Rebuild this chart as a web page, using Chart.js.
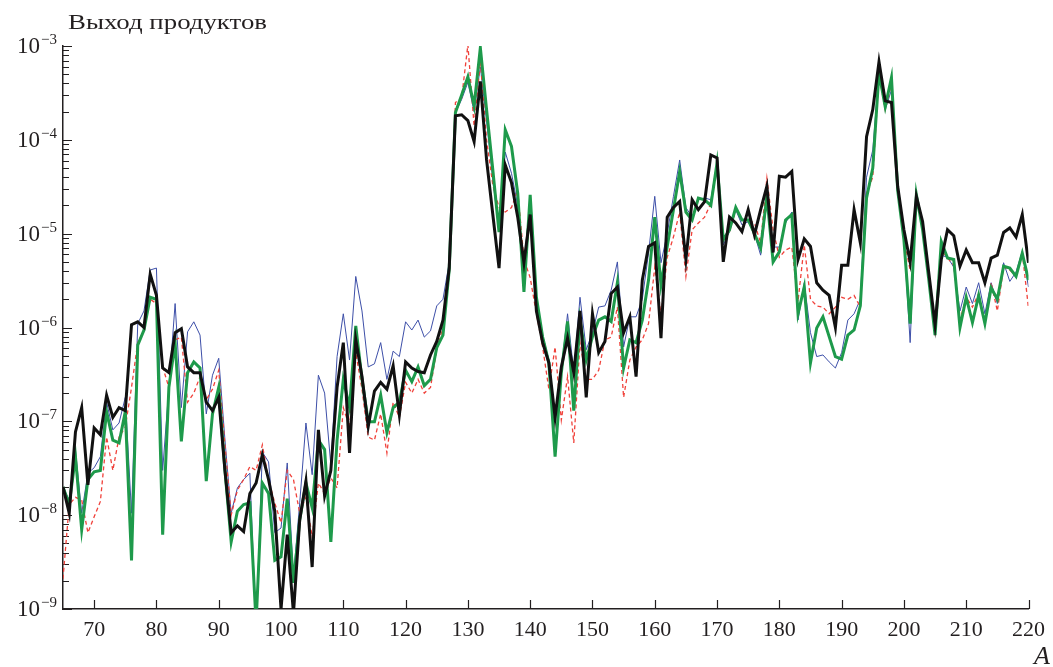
<!DOCTYPE html>
<html>
<head>
<meta charset="utf-8">
<title>Выход продуктов</title>
<script src="https://cdn.jsdelivr.net/npm/chart.js@4.4.0/dist/chart.umd.min.js"></script>
<style>
  html, body { margin: 0; padding: 0; background: #fff; }
  #wrap { position: relative; width: 1053px; height: 667px; overflow: hidden; }
  #yieldChart { position: absolute; left: 0; top: 0; }
  .txt { position: absolute; font-family: "Liberation Serif", "Times New Roman", serif; color: #231f20; white-space: nowrap; }
  #yTitle { left: 68px; top: 11px; font-size: 22px; line-height: 22px; transform: scaleX(1.22); transform-origin: left top; }
  #xTitle { left: 1034px; top: 643px; font-size: 26px; line-height: 26px; font-style: italic; }
  .y-tick { right: 996px; font-size: 23px; line-height: 23px; text-align: right; }
  .y-tick sup { font-size: 15px; line-height: 0; vertical-align: baseline; position: relative; top: -9px; margin-left: 1px; }
</style>
</head>
<body>
<div id="wrap">
  <canvas id="yieldChart" width="1053" height="667"></canvas>
  <div class="txt" id="yTitle">Выход продуктов</div>
  <div class="txt" id="xTitle">A</div>
</div>
<script>
// mass numbers A on the x axis
const massNumbers = [
  65, 66, 67, 68, 69, 70, 71, 72, 73, 74, 75, 76, 77, 78, 79, 80, 81, 82, 83, 84,
  85, 86, 87, 88, 89, 90, 91, 92, 93, 94, 95, 96, 97, 98, 99, 100, 101, 102, 103, 104,
  105, 106, 107, 108, 109, 110, 111, 112, 113, 114, 115, 116, 117, 118, 119, 120, 121, 122, 123, 124,
  125, 126, 127, 128, 129, 130, 131, 132, 133, 134, 135, 136, 137, 138, 139, 140, 141, 142, 143, 144,
  145, 146, 147, 148, 149, 150, 151, 152, 153, 154, 155, 156, 157, 158, 159, 160, 161, 162, 163, 164,
  165, 166, 167, 168, 169, 170, 171, 172, 173, 174, 175, 176, 177, 178, 179, 180, 181, 182, 183, 184,
  185, 186, 187, 188, 189, 190, 191, 192, 193, 194, 195, 196, 197, 198, 199, 200, 201, 202, 203, 204,
  205, 206, 207, 208, 209, 210, 211, 212, 213, 214, 215, 216, 217, 218, 219, 220
];

// thick black curve
const blackYield = [
  2.0e-8, 1.05e-8, 7.7e-8, 1.4e-7, 2.1e-8, 8.5e-8, 7.2e-8, 1.9e-7, 1.1e-7, 1.4e-7,
  1.3e-7, 1.07e-6, 1.15e-6, 1.0e-6, 3.7e-6, 2.2e-6, 3.7e-7, 3.3e-7, 8.8e-7, 9.7e-7,
  3.8e-7, 3.3e-7, 3.3e-7, 1.6e-7, 1.3e-7, 1.8e-7, 3.0e-8, 6.5e-9, 7.7e-9, 6.7e-9,
  1.7e-8, 2.2e-8, 4.4e-8, 2.4e-8, 1.1e-8, 1.0e-9, 6.2e-9, 9e-10, 8.9e-9, 2.3e-8,
  2.8e-9, 8.1e-8, 1.6e-8, 3.0e-8, 2.3e-7, 6.9e-7, 4.6e-8, 7.4e-7, 3.0e-7, 8.8e-8,
  2.1e-7, 2.6e-7, 2.2e-7, 3.9e-7, 1.17e-7, 4.3e-7, 3.7e-7, 3.4e-7, 3.3e-7, 5.1e-7,
  7.1e-7, 1.2e-6, 4.3e-6, 1.8e-4, 1.85e-4, 1.6e-4, 9.6e-5, 4.2e-4, 6.1e-5, 1.6e-5,
  4.3e-6, 5.4e-5, 3.5e-5, 1.5e-5, 4.9e-6, 1.6e-5, 1.5e-6, 6.9e-7, 4.2e-7, 1.1e-7,
  3.8e-7, 7.7e-7, 3.3e-7, 1.5e-6, 1.8e-7, 1.4e-6, 5.4e-7, 7.1e-7, 2.3e-6, 2.7e-6,
  8.8e-7, 1.3e-6, 3.0e-7, 3.2e-6, 7.3e-6, 8.0e-6, 7.7e-7, 1.5e-5, 1.9e-5, 2.2e-5,
  5.3e-6, 2.3e-5, 1.8e-5, 2.2e-5, 6.9e-5, 6.4e-5, 5.0e-6, 1.5e-5, 1.3e-5, 1.05e-5,
  1.8e-5, 9.7e-6, 1.8e-5, 3.2e-5, 6.3e-6, 4.1e-5, 4.0e-5, 4.6e-5, 5.3e-6, 8.8e-6,
  7.3e-6, 3.0e-6, 2.5e-6, 2.2e-6, 1.0e-6, 4.6e-6, 4.6e-6, 1.8e-5, 8.0e-6, 1.08e-4,
  2.1e-4, 6.8e-4, 2.6e-4, 2.5e-4, 3.2e-5, 1.1e-5, 5.0e-6, 2.5e-5, 1.35e-5, 3.8e-6,
  1.07e-6, 5.3e-6, 1.1e-5, 9.5e-6, 4.5e-6, 6.7e-6, 4.9e-6, 4.9e-6, 3.0e-6, 5.5e-6,
  5.9e-6, 1.03e-5, 1.15e-5, 9.2e-6, 1.6e-5, 4.9e-6
];

// thick green curve
const greenYield = [
  2.0e-8, 1.3e-8, 4.2e-8, 7.0e-9, 2.4e-8, 2.9e-8, 3.0e-8, 1.27e-7, 6.3e-8, 5.9e-8,
  1.27e-7, 3.3e-9, 6.5e-7, 9.4e-7, 2.1e-6, 2.0e-6, 6.2e-9, 2.3e-7, 6.9e-7, 6.1e-8,
  3.3e-7, 4.3e-7, 3.7e-7, 2.3e-8, 1.2e-7, 2.3e-7, 3.0e-8, 5.2e-9, 1.1e-8, 1.3e-8,
  1.35e-8, 7e-10, 2.2e-8, 1.7e-8, 3.3e-9, 3.6e-9, 1.5e-8, 1.9e-9, 8.9e-9, 2.2e-8,
  1.2e-8, 6.3e-8, 5.0e-8, 5.2e-9, 6.3e-8, 2.8e-7, 1.4e-7, 1.04e-6, 2.8e-7, 9.9e-8,
  9.9e-8, 1.9e-7, 7.6e-8, 1.4e-7, 1.6e-7, 3.5e-7, 2.65e-7, 3.8e-7, 2.4e-7, 2.8e-7,
  6.1e-7, 8.3e-7, 4.1e-6, 1.95e-4, 3.0e-4, 4.7e-4, 2.3e-4, 9.6e-4, 2.1e-4, 4.8e-5,
  1.04e-5, 1.28e-4, 8.5e-5, 2.7e-5, 2.4e-6, 2.6e-5, 2.1e-6, 7.9e-7, 4.2e-7, 4.2e-8,
  3.3e-7, 1.16e-6, 1.3e-7, 1.2e-6, 4.5e-7, 8.0e-7, 1.2e-6, 1.3e-6, 1.16e-6, 3.0e-6,
  3.7e-7, 7.4e-7, 6.9e-7, 1.2e-6, 3.2e-6, 1.5e-5, 2.85e-6, 7.3e-6, 1.8e-5, 4.6e-5,
  1.7e-5, 1.4e-5, 2.4e-5, 2.3e-5, 2.0e-5, 5.7e-5, 8.6e-6, 1.1e-5, 1.9e-5, 1.4e-5,
  1.4e-5, 1.0e-5, 7.0e-6, 2.5e-5, 5.0e-6, 6.4e-6, 1.4e-5, 1.6e-5, 1.4e-6, 2.7e-6,
  4.2e-7, 9.9e-7, 1.3e-6, 8.0e-7, 4.9e-7, 4.6e-7, 8.3e-7, 9.4e-7, 1.7e-6, 2.4e-5,
  5.0e-5, 5.2e-4, 2.25e-4, 4.6e-4, 2.9e-5, 8.6e-6, 1.1e-6, 2.6e-5, 1.1e-5, 3.2e-6,
  8.3e-7, 8.2e-6, 5.5e-6, 5.3e-6, 1.0e-6, 2.1e-6, 1.13e-6, 2.2e-6, 1.1e-6, 2.65e-6,
  2.0e-6, 4.5e-6, 4.3e-6, 3.5e-6, 6.2e-6, 3.2e-6
];

// thin blue curve
const blueYield = [
  2.0e-8, 1.45e-8, 5.0e-8, 1.05e-8, 2.8e-8, 3.2e-8, 4.2e-8, 1.6e-7, 8.1e-8, 9.6e-8,
  1.8e-7, 1.05e-8, 1.1e-6, 1.5e-6, 4.1e-6, 4.3e-6, 3.0e-8, 2.3e-7, 1.8e-6, 1.4e-7,
  9.0e-7, 1.15e-6, 8.3e-7, 1.2e-7, 3.1e-7, 4.7e-7, 6.3e-8, 1.05e-8, 1.95e-8, 2.4e-8,
  2.8e-8, 6e-10, 4.7e-8, 3.7e-8, 6.5e-9, 7.3e-9, 3.6e-8, 2.2e-9, 1.35e-8, 9.6e-8,
  2.7e-8, 3.1e-7, 2.0e-7, 3.4e-8, 4.9e-7, 1.4e-6, 4.5e-7, 3.5e-6, 1.5e-6, 3.8e-7,
  4.1e-7, 6.9e-7, 2.8e-7, 5.6e-7, 4.9e-7, 1.15e-6, 9.4e-7, 1.2e-6, 7.9e-7, 9.2e-7,
  1.7e-6, 2.0e-6, 4.9e-6, 1.95e-4, 2.7e-4, 4.1e-4, 2.0e-4, 6.0e-4, 1.6e-4, 3.7e-5,
  1.1e-5, 7.4e-5, 4.4e-5, 2.0e-5, 4.9e-6, 2.1e-5, 2.0e-6, 8.3e-7, 4.5e-7, 9.8e-8,
  3.5e-7, 1.4e-6, 3.3e-7, 2.1e-6, 5.8e-7, 8.8e-7, 1.65e-6, 1.7e-6, 2.5e-6, 5.0e-6,
  6.2e-7, 1.3e-6, 1.3e-6, 2.0e-6, 6.2e-6, 2.5e-5, 4.9e-6, 1.0e-5, 2.5e-5, 6.1e-5,
  1.9e-5, 1.5e-5, 2.3e-5, 2.4e-5, 2.3e-5, 5.7e-5, 7.6e-6, 1.05e-5, 1.8e-5, 1.24e-5,
  1.34e-5, 1.0e-5, 5.9e-6, 2.3e-5, 7.2e-6, 7.2e-6, 1.3e-5, 1.7e-5, 1.2e-6, 3.0e-6,
  8.8e-7, 4.9e-7, 5.1e-7, 4.3e-7, 3.7e-7, 5.4e-7, 1.2e-6, 1.4e-6, 2.0e-6, 4.0e-5,
  7.8e-5, 5.3e-4, 2.1e-4, 3.4e-4, 2.9e-5, 8.6e-6, 6.9e-7, 2.5e-5, 1.1e-5, 3.2e-6,
  8.8e-7, 5.9e-6, 5.6e-6, 4.4e-6, 1.5e-6, 2.7e-6, 1.8e-6, 3.0e-6, 1.4e-6, 3.0e-6,
  1.8e-6, 4.9e-6, 3.1e-6, 3.9e-6, 6.5e-6, 2.7e-6
];

// thin red dashed curve
const redYield = [
  2.1e-9, 1.3e-8, 1.55e-8, 1.45e-8, 6.5e-9, 9.6e-9, 1.4e-8, 6.8e-8, 3.0e-8, 6.8e-8,
  8.7e-8, 2.3e-7, 6.9e-7, 9.4e-7, 2.0e-6, 1.8e-6, 3.8e-7, 2.3e-7, 7.4e-7, 7.9e-7,
  1.6e-7, 2.0e-7, 3.0e-7, 1.7e-7, 2.2e-7, 3.5e-7, 5.6e-8, 1.0e-8, 1.85e-8, 2.4e-8,
  3.3e-8, 3.0e-8, 5.6e-8, 2.4e-8, 1.35e-8, 8.3e-9, 3.0e-8, 2.4e-8, 1.05e-8, 1.55e-8,
  5.9e-9, 2.2e-8, 1.7e-8, 2.5e-8, 1.95e-8, 1.4e-7, 8.7e-8, 5.4e-7, 2.2e-7, 6.8e-8,
  6.3e-8, 1.2e-7, 4.6e-8, 1.6e-7, 1.1e-7, 2.6e-7, 2.0e-7, 2.8e-7, 2.0e-7, 2.3e-7,
  5.8e-7, 1.0e-6, 3.6e-6, 2.5e-4, 2.8e-4, 1.03e-3, 1.4e-4, 6.8e-4, 1.0e-4, 3.3e-5,
  1.9e-5, 1.7e-5, 1.9e-5, 2.9e-5, 5.3e-6, 3.4e-6, 1.4e-6, 6.2e-7, 2.2e-7, 6.2e-7,
  1.03e-7, 3.0e-7, 5.9e-8, 6.9e-7, 2.8e-7, 2.8e-7, 3.5e-7, 7.4e-7, 7.9e-7, 1.65e-6,
  1.8e-7, 4.5e-7, 6.2e-7, 7.4e-7, 1.1e-6, 4.4e-6, 1.4e-6, 5.6e-6, 9.2e-6, 1.7e-5,
  3.5e-6, 1.1e-5, 1.3e-5, 1.5e-5, 2.1e-5, 5.7e-5, 8.6e-6, 1.05e-5, 1.8e-5, 1.4e-5,
  1.4e-5, 1.3e-5, 8.0e-6, 3.9e-5, 1.1e-5, 5.6e-6, 6.7e-6, 7.2e-6, 1.9e-6, 7.6e-6,
  2.0e-6, 1.7e-6, 1.65e-6, 1.4e-6, 1.65e-6, 2.1e-6, 2.0e-6, 2.2e-6, 1.65e-6, 2.7e-5,
  4.0e-5, 4.9e-4, 2.1e-4, 3.9e-4, 2.9e-5, 8.6e-6, 4.1e-6, 2.5e-5, 1.1e-5, 3.2e-6,
  8.3e-7, 6.7e-6, 5.5e-6, 4.6e-6, 1.2e-6, 2.1e-6, 1.65e-6, 2.3e-6, 1.1e-6, 3.0e-6,
  1.5e-6, 4.4e-6, 4.1e-6, 3.5e-6, 6.3e-6, 1.6e-6
];

// axis ticks
const xTickValues = [70, 80, 90, 100, 110, 120, 130, 140, 150, 160, 170, 180, 190, 200, 210, 220];
const yTickValues = [1e-9, 1e-8, 1e-7, 1e-6, 1e-5, 1e-4, 1e-3];
const yTickExponents = ['−9', '−8', '−7', '−6', '−5', '−4', '−3'];

const axisColor = '#231f20';
const serif = '"Liberation Serif", "Times New Roman", serif';

function toPoints(values) {
    return values.map((v, i) => ({ x: massNumbers[i], y: v }));
}

// tick marks pointing into the plot, with log minor ticks on y
const inwardTicks = {
    id: 'inwardTicks',
    beforeDatasetsDraw(chart) {
        const { ctx, chartArea, scales } = chart;
        const x = scales.x, y = scales.y;
        ctx.save();
        ctx.strokeStyle = axisColor;
        ctx.lineWidth = 1.2;
        ctx.beginPath();
        xTickValues.forEach(v => {
            const px = Math.round(x.getPixelForValue(v)) + 0.5;
            ctx.moveTo(px, chartArea.bottom);
            ctx.lineTo(px, chartArea.bottom - 9);
        });
        for (let i = 0; i < yTickValues.length; i++) {
            const base = yTickValues[i];
            const steps = i === yTickValues.length - 1 ? [1] : [1, 2, 3, 4, 5, 6, 7, 8, 9];
            steps.forEach(m => {
                const py = Math.round(y.getPixelForValue(base * m)) + 0.5;
                const len = m === 1 ? 9 : 6;
                ctx.moveTo(chartArea.left, py);
                ctx.lineTo(chartArea.left + len, py);
            });
        }
        ctx.stroke();
        ctx.restore();
    }
};

const ctx = document.getElementById('yieldChart').getContext('2d');

const yieldChart = new Chart(ctx, {
    type: 'line',
    data: {
        datasets: [
            {
                label: 'black',
                data: toPoints(blackYield),
                borderColor: '#111111',
                borderWidth: 3,
                order: 0
            },
            {
                label: 'green',
                data: toPoints(greenYield),
                borderColor: '#1e9a4b',
                borderWidth: 3,
                order: 1
            },
            {
                label: 'red',
                data: toPoints(redYield),
                borderColor: '#f0413a',
                borderWidth: 1.3,
                borderDash: [4, 3],
                order: 2
            },
            {
                label: 'blue',
                data: toPoints(blueYield),
                borderColor: '#3d4fa8',
                borderWidth: 1,
                order: 3
            }
        ]
    },
    options: {
        responsive: false,
        animation: false,
        devicePixelRatio: 1,
        layout: {
            padding: { top: 46, right: 24, left: 0, bottom: 0 }
        },
        elements: {
            point: { radius: 0 },
            line: { tension: 0, fill: false }
        },
        plugins: {
            legend: { display: false },
            tooltip: { enabled: false },
            title: { display: false }
        },
        scales: {
            x: {
                type: 'linear',
                min: 65,
                max: 220,
                grid: { display: false, drawTicks: false },
                border: { display: true, color: axisColor, width: 1.5 },
                afterBuildTicks: scale => {
                    scale.ticks = xTickValues.map(v => ({ value: v }));
                },
                afterFit: scale => {
                    scale.height = 58;
                },
                ticks: {
                    autoSkip: false,
                    maxRotation: 0,
                    padding: 8,
                    color: axisColor,
                    font: { family: serif, size: 22 }
                }
            },
            y: {
                type: 'logarithmic',
                min: 1e-9,
                max: 1e-3,
                grid: { display: false, drawTicks: false },
                border: { display: true, color: axisColor, width: 1.5 },
                afterBuildTicks: scale => {
                    scale.ticks = yTickValues.map(v => ({ value: v }));
                },
                afterFit: scale => {
                    scale.width = 63;
                },
                ticks: { display: false }
            }
        }
    },
    plugins: [inwardTicks]
});

// y tick labels as text with a real superscript, placed at the scale's pixels
const wrap = document.getElementById('wrap');
yTickValues.forEach((v, i) => {
    const label = document.createElement('div');
    label.className = 'txt y-tick';
    label.innerHTML = '10<sup>' + yTickExponents[i] + '</sup>';
    label.style.top = (yieldChart.scales.y.getPixelForValue(v) - 12) + 'px';
    wrap.appendChild(label);
});
</script>
</body>
</html>
